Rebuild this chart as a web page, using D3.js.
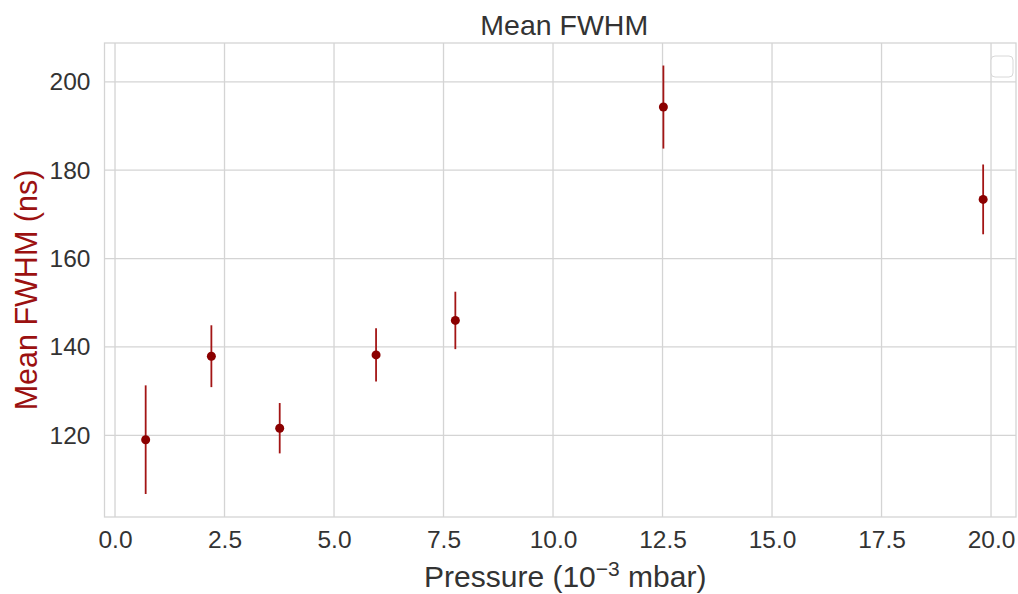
<!DOCTYPE html>
<html>
<head>
<meta charset="utf-8">
<script src="https://cdn.jsdelivr.net/npm/d3@7"></script>
<style>
  body { margin: 0; background: #fff; }
  text { font-family: "Liberation Sans", Arial, sans-serif; }
</style>
</head>
<body>
<div id="container"></div>
<script>
/* DATA */
const pressure = [0.70, 2.20, 3.76, 5.96, 7.77, 12.52, 19.82];
const meanFwhm = [119.0, 137.9, 121.6, 138.2, 146.0, 194.3, 173.4];
const fwhmErr  = [12.3, 7.0, 5.7, 6.0, 6.5, 9.4, 7.9];
const xTicks = [0, 2.5, 5, 7.5, 10, 12.5, 15, 17.5, 20];
const yTicks = [120, 140, 160, 180, 200];

/* CONSTANTS */
const width = 1018, height = 594,
  margin = { top: 43, bottom: 77, left: 104.5, right: 2 };

const textColor = "#333333", gridColor = "#d4d4d4", red = "#8b0000";

const xScale = d3.scaleLinear()
  .domain([-0.24, 20.57])
  .range([margin.left, width - margin.right]);

const yScale = d3.scaleLinear()
  .domain([101.5, 208.8])
  .range([height - margin.bottom, margin.top]);

const svg = d3.select("#container")
  .append("svg")
  .attr("width", width)
  .attr("height", height);

// grid
svg.append("g")
  .selectAll("line")
  .data(xTicks)
  .join("line")
  .attr("x1", d => xScale(d)).attr("x2", d => xScale(d))
  .attr("y1", margin.top).attr("y2", height - margin.bottom)
  .attr("stroke", gridColor).attr("stroke-width", 1.3);

svg.append("g")
  .selectAll("line")
  .data(yTicks)
  .join("line")
  .attr("x1", margin.left).attr("x2", width - margin.right)
  .attr("y1", d => yScale(d)).attr("y2", d => yScale(d))
  .attr("stroke", gridColor).attr("stroke-width", 1.3);

// frame
svg.append("rect")
  .attr("x", margin.left).attr("y", margin.top)
  .attr("width", width - margin.right - margin.left)
  .attr("height", height - margin.bottom - margin.top)
  .attr("fill", "none").attr("stroke", gridColor).attr("stroke-width", 1.3);

// axes (labels only, seaborn whitegrid style)
const xAxis = d3.axisBottom(xScale).tickValues(xTicks).tickFormat(d3.format(".1f")).tickSize(0).tickPadding(14);
const yAxis = d3.axisLeft(yScale).tickValues(yTicks).tickFormat(d3.format("d")).tickSize(0).tickPadding(14);

svg.append("g")
  .attr("transform", `translate(0, ${height - margin.bottom})`)
  .call(xAxis)
  .call(g => g.select(".domain").remove())
  .selectAll("text")
  .attr("font-size", 24.5).attr("fill", textColor).attr("font-family", "Liberation Sans, Arial, sans-serif");

svg.append("g")
  .attr("transform", `translate(${margin.left}, 0)`)
  .call(yAxis)
  .call(g => g.select(".domain").remove())
  .selectAll("text")
  .attr("font-size", 24.5).attr("fill", textColor).attr("font-family", "Liberation Sans, Arial, sans-serif");

// error bars
const pts = pressure.map((p, i) => ({ x: p, y: meanFwhm[i], e: fwhmErr[i] }));

svg.append("g")
  .selectAll("line")
  .data(pts)
  .join("line")
  .attr("x1", d => xScale(d.x)).attr("x2", d => xScale(d.x))
  .attr("y1", d => yScale(d.y - d.e)).attr("y2", d => yScale(d.y + d.e))
  .attr("stroke", "#a31515").attr("stroke-width", 1.8);

svg.append("g")
  .selectAll("circle")
  .data(pts)
  .join("circle")
  .attr("cx", d => xScale(d.x))
  .attr("cy", d => yScale(d.y))
  .attr("r", 4.5)
  .attr("fill", red);

// empty legend box
svg.append("rect")
  .attr("x", 991).attr("y", 56).attr("width", 22).attr("height", 21)
  .attr("rx", 4)
  .attr("fill", "#fff").attr("fill-opacity", 0.8)
  .attr("stroke", "#d8d8d8").attr("stroke-width", 1);

// title & labels
svg.append("text")
  .attr("x", (margin.left + width - margin.right) / 2 + 4)
  .attr("y", 35)
  .attr("text-anchor", "middle")
  .attr("font-size", 28.5)
  .attr("fill", textColor)
  .text("Mean FWHM");

const xLabel = svg.append("text")
  .attr("x", (margin.left + width - margin.right) / 2 + 5)
  .attr("y", 587)
  .attr("text-anchor", "middle")
  .attr("font-size", 30)
  .attr("fill", textColor);
xLabel.append("tspan").text("Pressure (10");
xLabel.append("tspan").attr("dy", -11).attr("font-size", 21).text("\u22123");
xLabel.append("tspan").attr("dy", 11).text(" mbar)");

svg.append("text")
  .attr("transform", `translate(37, ${(margin.top + height - margin.bottom) / 2 + 10}) rotate(-90)`)
  .attr("text-anchor", "middle")
  .attr("font-size", 30.5)
  .attr("fill", "#9b1111")
  .text("Mean FWHM (ns)");
</script>
</body>
</html>
